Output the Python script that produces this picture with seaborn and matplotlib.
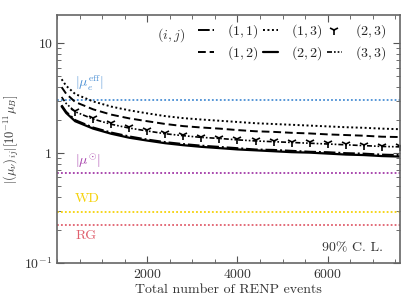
import seaborn as sns
import matplotlib.pyplot as plt
from matplotlib.ticker import FixedLocator, MultipleLocator, FuncFormatter, LogLocator, NullFormatter

# Data
events = [100, 200, 400, 800, 1200, 1600, 2000, 2400, 2800, 3200, 3600,
          4000, 4400, 4800, 5200, 5600, 6000, 6400, 6800, 7200, 7600]
mu_11 = [2.73, 2.38, 2.00, 1.71, 1.54, 1.42, 1.33, 1.26, 1.21, 1.17, 1.14,
         1.11, 1.08, 1.07, 1.05, 1.03, 1.02, 1.00, 0.99, 0.97, 0.96]
mu_12 = [3.98, 3.47, 2.92, 2.50, 2.24, 2.07, 1.95, 1.84, 1.76, 1.71, 1.67,
         1.62, 1.58, 1.56, 1.53, 1.51, 1.48, 1.46, 1.44, 1.41, 1.40]
mu_13 = [4.70, 4.10, 3.45, 2.95, 2.65, 2.45, 2.30, 2.17, 2.08, 2.02, 1.97,
         1.92, 1.87, 1.84, 1.81, 1.78, 1.75, 1.72, 1.70, 1.67, 1.65]
mu_22 = [2.66, 2.32, 1.95, 1.67, 1.50, 1.38, 1.30, 1.23, 1.18, 1.14, 1.11,
         1.08, 1.06, 1.04, 1.02, 1.01, 0.99, 0.97, 0.96, 0.94, 0.93]
mu_23 = [3.29, 2.87, 2.42, 2.07, 1.86, 1.72, 1.61, 1.52, 1.46, 1.41, 1.38,
         1.34, 1.31, 1.29, 1.27, 1.25, 1.23, 1.20, 1.19, 1.17, 1.16]
mu_33 = [3.24, 2.83, 2.38, 2.04, 1.83, 1.69, 1.59, 1.50, 1.44, 1.39, 1.36,
         1.32, 1.29, 1.27, 1.25, 1.23, 1.21, 1.19, 1.17, 1.15, 1.14]

# experimental / astrophysical bounds
bound_names = [r'$|\mu_e^{\rm eff}|$', r'$|\mu^{\odot}|$', 'WD', 'RG']
bound_vals = [3.05, 0.66, 0.29, 0.22]
bound_cols = ['#4a8fd4', '#a33aa8', '#f5d20a', '#e0606e']
bound_text_y = [4.33, 0.86, 0.38, 0.176]

sns.set_style('ticks')
plt.rcParams['font.family'] = 'serif'
plt.rcParams['font.serif'] = ['cmr10', 'DejaVu Serif']
plt.rcParams['mathtext.fontset'] = 'cm'
plt.rcParams['axes.formatter.use_mathtext'] = True
plt.rcParams['font.size'] = 10

fig = plt.figure(figsize=(4.08, 3.03), dpi=100)
ax = fig.add_axes([0.14, 0.132, 0.84, 0.818])

for v, c in zip(bound_vals, bound_cols):
    ax.axhline(v, color=c, linestyle=(0, (1, 1.2)), lw=1.3)
for name, c, ty in zip(bound_names, bound_cols, bound_text_y):
    ax.text(400, ty, name, color=c, fontsize=10, va='center')

sns.lineplot(x=events, y=mu_11, ax=ax, color='k', lw=1.4,
             linestyle=(0, (6, 1.5, 1, 1.5)), label=r'$(1,1)$')
sns.lineplot(x=events, y=mu_12, ax=ax, color='k', lw=1.4,
             linestyle=(0, (4, 2)), label=r'$(1,2)$')
sns.lineplot(x=events, y=mu_13, ax=ax, color='k', lw=1.4,
             linestyle=(0, (1, 1.3)), label=r'$(1,3)$')
sns.lineplot(x=events, y=mu_22, ax=ax, color='k', lw=1.6,
             linestyle='-', label=r'$(2,2)$')
sns.lineplot(x=events, y=mu_23, ax=ax, color='k', linestyle='none',
             marker='1', markersize=7, mew=1.2, mec='k',
             markevery=slice(2, None), label=r'$(2,3)$')
sns.lineplot(x=events, y=mu_33, ax=ax, color='k', lw=1.2,
             linestyle=(0, (3, 1.2, 1, 1.2, 1, 1.2)), label=r'$(3,3)$')

ax.set_yscale('log')
ax.set_xlim(0, 7600)
ax.set_ylim(0.1, 18)
ax.xaxis.set_major_locator(FixedLocator([2000, 4000, 6000]))
ax.xaxis.set_minor_locator(MultipleLocator(500))
ax.yaxis.set_major_locator(FixedLocator([0.1, 1, 10]))
ax.yaxis.set_minor_locator(LogLocator(base=10, subs=range(2, 10)))
ax.yaxis.set_minor_formatter(NullFormatter())
ax.yaxis.set_major_formatter(FuncFormatter(
    lambda v, p: {0.1: r'$10^{-1}$', 1: '1', 10: '10'}.get(round(v, 3), '')))

ax.tick_params(which='both', direction='in', top=True, right=True, colors='#555555',
               labelcolor='#333333')
ax.tick_params(which='major', length=5)
ax.tick_params(which='minor', length=3)
for s in ax.spines.values():
    s.set_color('#666666')
    s.set_linewidth(1.2)

ax.set_xlabel('Total number of RENP events', color='#333333', labelpad=2)
ax.set_ylabel(r'$|(\mu_\nu)_{ij}|[10^{-11}\mu_B]$', color='#333333', labelpad=2,
              fontsize=9)

handles, labels = ax.get_legend_handles_labels()
ax.legend(handles, labels, ncol=3, loc='center', frameon=False,
          handlelength=1.1, handletextpad=0.95, columnspacing=0.3,
          labelspacing=0.3, bbox_to_anchor=(0.687, 0.891), fontsize=10,
          borderpad=0, borderaxespad=0)
ax.text(0.292, 0.919, r'$(i,j)$', transform=ax.transAxes, color='#333333',
        fontsize=10, va='center')
ax.text(0.95, 0.06, r'90% C. L.', transform=ax.transAxes, ha='right', va='center',
        color='#333333', fontsize=10)

fig.savefig('out.png', dpi=100)
